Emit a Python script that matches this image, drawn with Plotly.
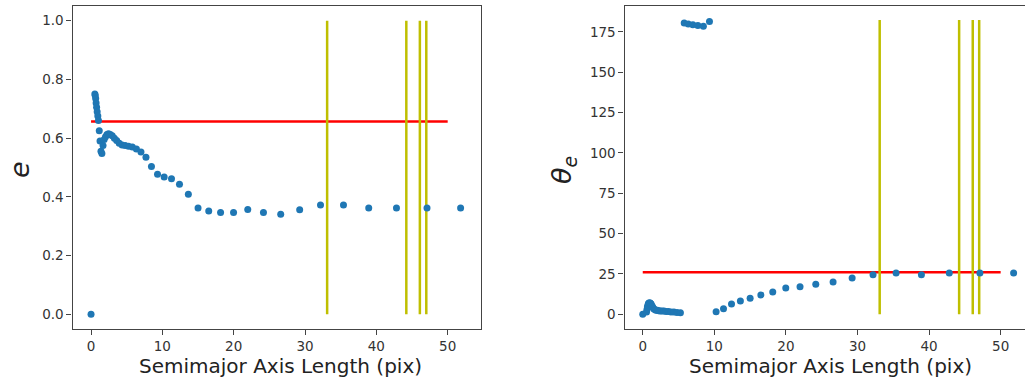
import plotly.graph_objects as go

# ---- data ----
sma = [0, 0.53, 0.59, 0.65, 0.71, 0.78, 0.86, 0.95, 1.04,
       1.15, 1.26, 1.39, 1.52, 1.68, 1.84, 2.03, 2.23, 2.45,
       2.70, 2.97, 3.27, 3.59, 3.95, 4.35, 4.78, 5.26,
       5.79, 6.36, 7.00, 7.70, 8.47, 9.32,
       10.25, 11.28, 12.40, 13.64, 15.00, 16.50, 18.16, 19.98, 21.97,
       24.17, 26.59, 29.25, 32.17, 35.39, 38.93, 42.82, 47.10, 51.81]
ellip = [0.0, 0.75, 0.745, 0.735, 0.72, 0.705, 0.69, 0.675, 0.66,
         0.625, 0.59, 0.555, 0.548, 0.575, 0.595, 0.605, 0.612, 0.615,
         0.612, 0.608, 0.60, 0.592, 0.583, 0.577, 0.575, 0.572,
         0.570, 0.563, 0.553, 0.535, 0.503, 0.477,
         0.468, 0.462, 0.443, 0.409, 0.362, 0.352, 0.347, 0.347, 0.357,
         0.347, 0.341, 0.356, 0.372, 0.372, 0.362, 0.362, 0.362, 0.362]
theta = [0, 1.5, 3, 4.5, 5.5, 6.5, 7, 7, 7,
         6.5, 5.5, 4.5, 3.5, 3, 2.5, 2.5, 2.2, 2,
         2, 2, 1.8, 1.8, 1.5, 1.5, 1.2, 1.0,
         180.5, 180, 179.5, 179, 178.5, 181.5,
         1.6, 3.5, 6.4, 8.3, 9.9, 12.0, 13.8, 16.3, 17.1,
         18.6, 20.0, 22.5, 24.6, 25.6, 24.6, 25.6, 25.6, 25.6]

vline_x = [33.1, 44.2, 46.1, 47.0]
e_ref = 0.657
theta_ref = 26.0
ref_x = [0, 50]
e_vline_range = [0, 1]
theta_vline_range = [0, 182.5]

x_ticks = [0, 10, 20, 30, 40, 50]
e_ticks = [0.0, 0.2, 0.4, 0.6, 0.8, 1.0]
theta_ticks = [0, 25, 50, 75, 100, 125, 150, 175]

BLUE = "#1f77b4"
YELLOW = "#bfbf00"
AX = "#444444"
FONT = "DejaVu Sans"

def vlines(xs, yr):
    X, Y = [], []
    for v in xs:
        X += [v, v, None]
        Y += [yr[0], yr[1], None]
    return X, Y

fig = go.Figure()

# left panel
vx, vy = vlines(vline_x, e_vline_range)
fig.add_trace(go.Scatter(x=ref_x, y=[e_ref, e_ref], mode="lines",
                         line=dict(color="red", width=2.5), xaxis="x", yaxis="y"))
fig.add_trace(go.Scatter(x=vx, y=vy, mode="lines",
                         line=dict(color=YELLOW, width=2.5), xaxis="x", yaxis="y"))
fig.add_trace(go.Scatter(x=sma, y=ellip, mode="markers",
                         marker=dict(color=BLUE, size=7), xaxis="x", yaxis="y"))

# right panel
vx2, vy2 = vlines(vline_x, theta_vline_range)
fig.add_trace(go.Scatter(x=ref_x, y=[theta_ref, theta_ref], mode="lines",
                         line=dict(color="red", width=2.5), xaxis="x2", yaxis="y2"))
fig.add_trace(go.Scatter(x=vx2, y=vy2, mode="lines",
                         line=dict(color=YELLOW, width=2.5), xaxis="x2", yaxis="y2"))
fig.add_trace(go.Scatter(x=sma, y=theta, mode="markers",
                         marker=dict(color=BLUE, size=7), xaxis="x2", yaxis="y2"))

W, H = 1025, 389
PH = 323  # plot-area height in px
axis_common = dict(showgrid=False, zeroline=False, showline=True, linecolor=AX,
                   linewidth=1.2, ticks="outside", ticklen=5, tickwidth=1.2,
                   tickcolor=AX, tickfont=dict(family=FONT, size=13.5, color="#333333"))

title_y = -(366 - 329) / PH

fig.update_layout(
    width=W, height=H,
    margin=dict(l=0, r=0, t=6, b=60),
    paper_bgcolor="white", plot_bgcolor="white",
    showlegend=False,
    xaxis=dict(domain=[72.5 / W, 480.5 / W], range=[-2.6, 54.6], mirror=True,
               tickvals=x_ticks, anchor="y", **axis_common),
    yaxis=dict(domain=[0, 1], range=[-0.05, 1.05], mirror=True,
               tickvals=e_ticks, tickformat=".1f", anchor="x", **axis_common),
    xaxis2=dict(domain=[624.5 / W, 1.0], range=[-2.55, 53.4], mirror=True,
                tickvals=x_ticks, anchor="y2", **axis_common),
    yaxis2=dict(domain=[0, 1], range=[-9.1, 191.1], mirror=False,
                tickvals=theta_ticks, anchor="x2", **axis_common),
    annotations=[
        dict(text="Semimajor Axis Length (pix)", xref="paper", yref="paper",
             x=280 / W, y=title_y, xanchor="center", yanchor="middle",
             showarrow=False, font=dict(family=FONT, size=20, color="#222222")),
        dict(text="Semimajor Axis Length (pix)", xref="paper", yref="paper",
             x=830 / W, y=title_y, xanchor="center", yanchor="middle",
             showarrow=False, font=dict(family=FONT, size=20, color="#222222")),
        dict(text="<i>e</i>", xref="paper", yref="paper", textangle=-90,
             x=19 / W, y=(329 - 170) / PH, xanchor="center", yanchor="middle",
             showarrow=False, font=dict(family=FONT, size=27, color="#222222")),
        dict(text="<i>θ</i><sub><i>e</i></sub>", xref="paper", yref="paper", textangle=-90,
             x=563 / W, y=(329 - 170) / PH, xanchor="center", yanchor="middle",
             showarrow=False, font=dict(family=FONT, size=27, color="#222222")),
    ],
)

fig.write_html("out.html")
